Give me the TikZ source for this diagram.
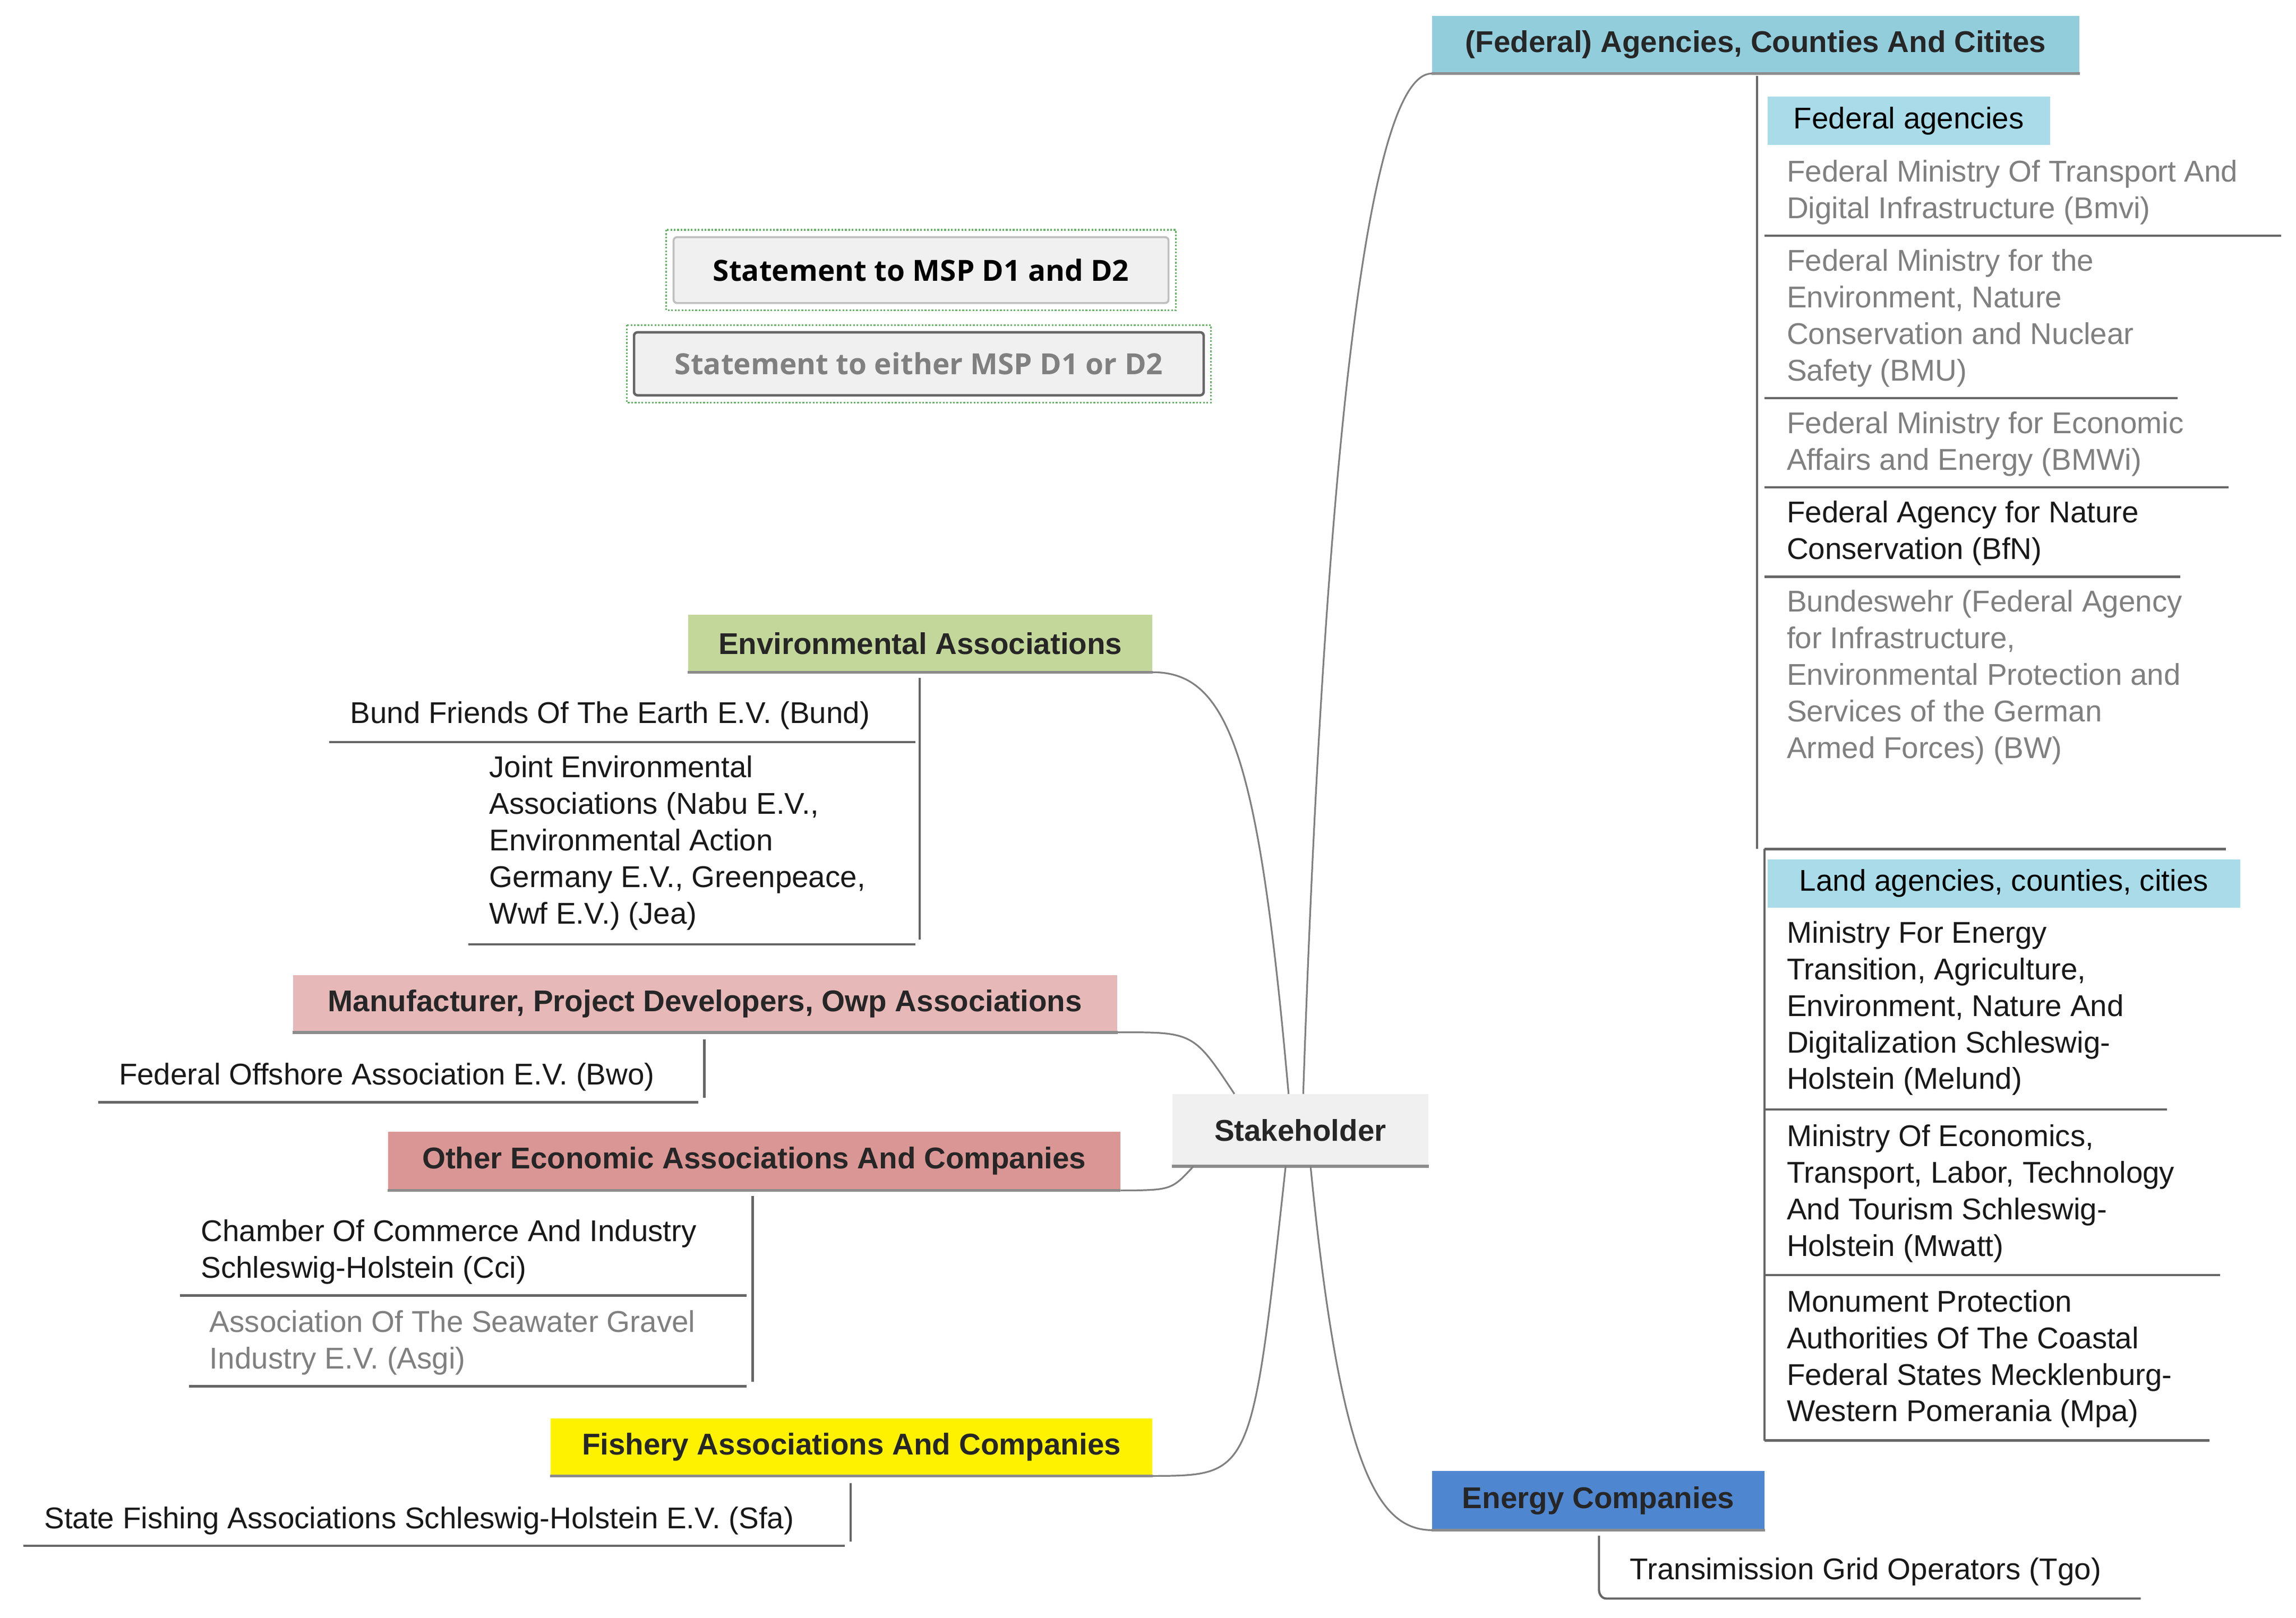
\documentclass[tikz,border=0pt]{standalone}
\usepackage{fontspec}
\setmainfont{Liberation Sans}
\newfontfamily\legfont{Open Sans}
\usetikzlibrary{calc}
\definecolor{fedblue}{HTML}{92CDDC}
\definecolor{subblue}{HTML}{A9DCE8}
\definecolor{enblue}{HTML}{4F86D0}
\definecolor{envgreen}{HTML}{C4D79B}
\definecolor{manpink}{HTML}{E6B8B7}
\definecolor{othred}{HTML}{DA9694}
\definecolor{txtgray}{HTML}{808080}
\definecolor{lgray}{HTML}{F0F0F0}
\begin{document}
\begin{tikzpicture}[x=0.3mm,y=-0.3mm,
  font=\fontsize{17.5}{21.34}\selectfont,
  hdr/.style={inner sep=0pt,font=\fontsize{17.5}{21.34}\selectfont\bfseries,text=black!85},
  sub/.style={inner sep=0pt},
  item/.style={anchor=north west,inner sep=0pt,align=left,text=black!90},
  gitem/.style={item,text=txtgray},
  ul/.style={draw=black!60,line width=0.45mm},
  conn/.style={draw=black!50,line width=0.35mm},
  bl/.style={draw=black!45,line width=0.6mm}]
\useasboundingbox (0,0) rectangle (1568,1105);
% Stakeholder
\node[hdr,fill=lgray,minimum width=175*0.3mm,minimum height=49*0.3mm] (stk) at (888,772) {Stakeholder};
\draw[bl] (stk.south west)--(stk.south east);
% Federal header
\node[hdr,fill=fedblue,minimum width=442*0.3mm,minimum height=39*0.3mm] (fed) at (1199,30.5) {(Federal) Agencies, Counties And Citites};
\draw[bl] (fed.south west)--(fed.south east);
\node[sub,fill=subblue,minimum width=193*0.3mm,minimum height=33*0.3mm] (fa) at (1303.5,82.5) {Federal agencies};
\node[sub,fill=subblue,minimum width=323*0.3mm,minimum height=33*0.3mm] (la) at (1368.5,603.5) {Land agencies, counties, cities};
\draw[ul] (1200,52)--(1200,580); \draw[ul] (1205,580)--(1205,984);
\node[gitem] (f1) at (1220,109) {Federal Ministry Of Transport And\\Digital Infrastructure (Bmvi)};
\draw[ul] (1205,161)--(1558,161);
\node[gitem] (f2) at (1220,170) {Federal Ministry for the\\Environment, Nature\\Conservation and Nuclear\\Safety (BMU)};
\draw[ul] (1205,272)--(1487,272);
\node[gitem] (f3) at (1220,281) {Federal Ministry for Economic\\Affairs and Energy (BMWi)};
\draw[ul] (1205,333)--(1522,333);
\node[item] (f4) at (1220,342) {Federal Agency for Nature\\Conservation (BfN)};
\draw[ul] (1205,394)--(1489,394);
\node[gitem] (f5) at (1220,403) {Bundeswehr (Federal Agency\\for Infrastructure,\\Environmental Protection and\\Services of the German\\Armed Forces) (BW)};
\draw[ul] (1205,580)--(1520,580);
\node[item] (l1) at (1220,629) {Ministry For Energy\\Transition, Agriculture,\\Environment, Nature And\\Digitalization Schleswig-\\Holstein (Melund)};
\draw[ul] (1205,758)--(1480,758);
\node[item] (l2) at (1220,768) {Ministry Of Economics,\\Transport, Labor, Technology\\And Tourism Schleswig-\\Holstein (Mwatt)};
\draw[ul] (1205,871)--(1516,871);
\node[item] (l3) at (1220,881) {Monument Protection\\Authorities Of The Coastal\\Federal States Mecklenburg-\\Western Pomerania (Mpa)};
\draw[ul] (1205,984)--(1509,984);
% Energy
\node[hdr,fill=enblue,minimum width=227*0.3mm,minimum height=40*0.3mm] (en) at (1091.5,1025) {Energy Companies};
\draw[bl] (en.south west)--(en.south east);
\node[item] (tgo) at (1113,1064) {Transimission Grid Operators (Tgo)};
\draw[ul] (1092,1049)--(1092,1086) to[out=-90,in=180] (1097,1092)--(1462,1092);
% Environmental
\node[hdr,fill=envgreen,minimum width=317*0.3mm,minimum height=39*0.3mm] (env) at (628.5,439.5) {Environmental Associations};
\draw[bl] (env.south west)--(env.south east);
\node[item] (bund) at (239,479) {Bund Friends Of The Earth E.V. (Bund)};
\draw[ul] (225,507)--(625,507);
\node[item] (jea) at (334,516) {Joint Environmental\\Associations (Nabu E.V.,\\Environmental Action\\Germany E.V., Greenpeace,\\Wwf E.V.) (Jea)};
\draw[ul] (320,645)--(625,645);
\draw[ul] (628,463)--(628,642);
% Manufacturer
\node[hdr,fill=manpink,minimum width=563*0.3mm,minimum height=39*0.3mm] (man) at (481.5,685.5) {Manufacturer, Project Developers, Owp Associations};
\draw[bl] (man.south west)--(man.south east);
\node[item] (bwo) at (81,726) {Federal Offshore Association E.V. (Bwo)};
\draw[ul] (67,753)--(477,753); \draw[ul] (481,710)--(481,750);
% Other economic
\node[hdr,fill=othred,minimum width=500*0.3mm,minimum height=40*0.3mm] (oth) at (515,793) {Other Economic Associations And Companies};
\draw[bl] (oth.south west)--(oth.south east);
\node[item] (cci) at (137,833) {Chamber Of Commerce And Industry\\Schleswig-Holstein (Cci)};
\draw[ul] (123,885)--(510,885);
\node[gitem] (asgi) at (143,895) {Association Of The Seawater Gravel\\Industry E.V. (Asgi)};
\draw[ul] (129,947)--(510,947); \draw[ul] (514,817)--(514,944);
% Fishery
\node[hdr,fill=yellow,minimum width=411*0.3mm,minimum height=39*0.3mm] (fish) at (581.5,988.5) {Fishery Associations And Companies};
\draw[bl] (fish.south west)--(fish.south east);
\node[item] (sfa) at (30,1029) {State Fishing Associations Schleswig-Holstein E.V. (Sfa)};
\draw[ul] (16,1056)--(577,1056); \draw[ul] (581,1013)--(581,1053);
% connectors
\draw[conn] ($(stk.north)+(2,0)$) .. controls (905,300) and (935,50) .. (fed.south west);
\draw[conn] ($(stk.south)+(7,0)$) .. controls (915,1000) and (940,1045) .. (en.south west);
\draw[conn] ($(stk.north)+(-8,0)$) .. controls (860,520) and (840,459) .. (env.south east);
\draw[conn] ($(stk.north)+(-45,0)$) .. controls (815,705) .. (man.south east);
\draw[conn] ($(stk.south)+(-73,0)$) .. controls (800,813) .. (oth.south east);
\draw[conn] ($(stk.south)+(-10,0)$) .. controls (855,1008) .. (fish.south east);
% legend
\draw[green!50!black!60,densely dotted,line width=0.35mm] (455,157) rectangle (803,212);
\node[draw=black!25,fill=lgray,rounded corners=2pt,line width=0.4mm,minimum width=338*0.3mm,minimum height=45*0.3mm,font=\legfont\fontsize{17}{20}\selectfont\bfseries] (l1b) at (629,184.5) {Statement to MSP D1 and D2};
\draw[green!50!black!60,densely dotted,line width=0.35mm] (428,222) rectangle (827,275);
\node[draw=black!60,fill=lgray,rounded corners=2pt,line width=0.5mm,minimum width=389*0.3mm,minimum height=43*0.3mm,text=txtgray,font=\legfont\fontsize{17}{20}\selectfont\bfseries] (l2b) at (627.5,248.5) {Statement to either MSP D1 or D2};
\end{tikzpicture}
\end{document}
